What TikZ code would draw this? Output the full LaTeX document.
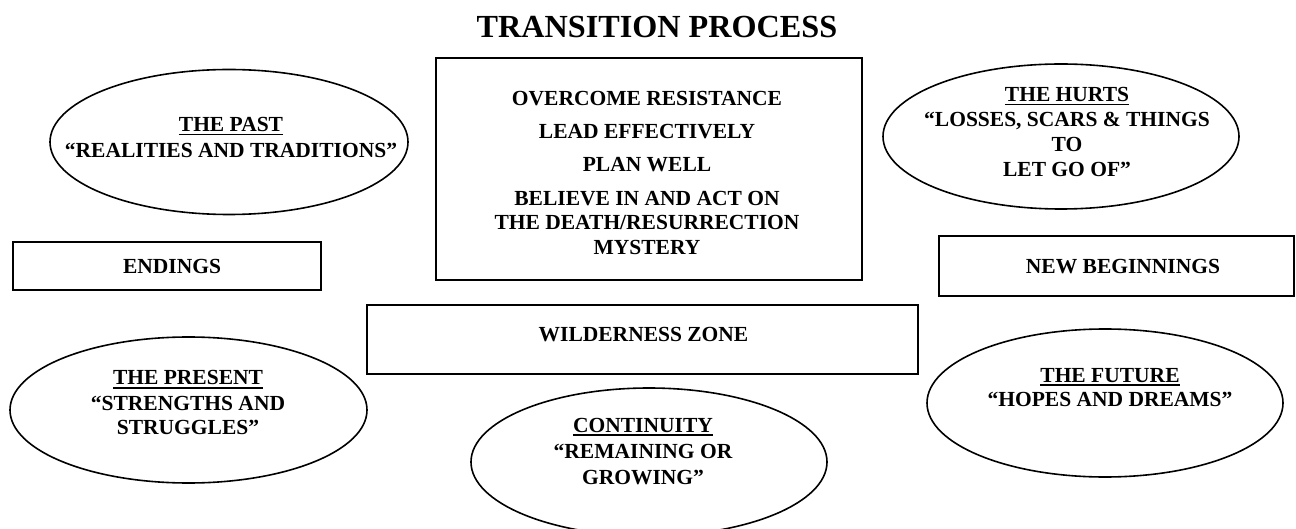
\documentclass[tikz,border=0pt]{standalone}
\usepackage{fontspec}
\setmainfont{Liberation Serif}
\usetikzlibrary{shapes.geometric}
\newcommand\myul[1]{\setbox0=\hbox{#1}\rlap{\rule[-1.75pt]{\wd0}{0.75pt}}\box0}
\begin{document}
\begin{tikzpicture}[x=0.5pt,y=-0.5pt,
  txt/.style={font=\fontsize{10.75pt}{12.3pt}\selectfont\bfseries, inner sep=0pt, anchor=base},
  ttl/.style={font=\fontsize{16.1pt}{18pt}\selectfont\bfseries, inner sep=0pt, anchor=base},
  box/.style={draw, line width=1pt, rectangle, inner sep=0pt},
  oval/.style={draw, line width=0.8pt, ellipse, inner sep=0pt}]
\useasboundingbox (0,0) rectangle (1296,529);

% title
\node[ttl] (title) at (657,38) {TRANSITION PROCESS};

% boxes
\node[box, minimum width=154pt, minimum height=24pt] (endings) at (167,266) {};
\node[box, minimum width=213pt, minimum height=111pt] (center) at (649,169) {};
\node[box, minimum width=275.5pt, minimum height=34.5pt] (wild) at (642.5,339.5) {};
\node[box, minimum width=177.5pt, minimum height=30pt] (newbeg) at (1116.5,266) {};

% ellipses
\node[oval, minimum width=179pt, minimum height=72.5pt] (past) at (229,142) {};
\node[oval, minimum width=178pt, minimum height=72.5pt] (hurts) at (1061,136.5) {};
\node[oval, minimum width=178.5pt, minimum height=73pt] (present) at (188.5,410) {};
\node[oval, minimum width=178pt, minimum height=74pt] (future) at (1105,403) {};
\node[oval, minimum width=178pt, minimum height=74pt] (cont) at (649,462) {};

% box texts
\node[txt] (endingsT) at (172,274) {ENDINGS};
\node[txt] (newbegT) at (1123,274) {NEW BEGINNINGS};
\node[txt] (wildT) at (643.5,342) {WILDERNESS ZONE};
\node[txt] (c1) at (647,106) {OVERCOME RESISTANCE};
\node[txt] (c2) at (647,139) {LEAD EFFECTIVELY};
\node[txt] (c3) at (647,172) {PLAN WELL};
\node[txt] (c4) at (647,206) {BELIEVE IN AND ACT ON};
\node[txt] (c5) at (647,230) {THE DEATH/RESURRECTION};
\node[txt] (c6) at (647,255) {MYSTERY};

% ellipse texts
\node[txt] (past1) at (231,132) {\myul{THE PAST}};
\node[txt] (past2) at (231,157.5) {“REALITIES AND TRADITIONS”};

\node[txt] (hurts1) at (1067,102) {\myul{THE HURTS}};
\node[txt] (hurts2) at (1067,127) {“LOSSES, SCARS \& THINGS};
\node[txt] (hurts3) at (1067,152) {TO};
\node[txt] (hurts4) at (1067,177) {LET GO OF”};

\node[txt] (pres1) at (188,385) {\myul{THE PRESENT}};
\node[txt] (pres2) at (188,410) {“STRENGTHS AND};
\node[txt] (pres3) at (188,434) {STRUGGLES”};

\node[txt] (fut1) at (1110,382) {\myul{THE FUTURE}};
\node[txt] (fut2) at (1110,407) {“HOPES AND DREAMS”};

\node[txt] (cont1) at (643,432) {\myul{CONTINUITY}};
\node[txt] (cont2) at (643,458) {“REMAINING OR};
\node[txt] (cont3) at (643,484) {GROWING”};
\end{tikzpicture}
\end{document}
